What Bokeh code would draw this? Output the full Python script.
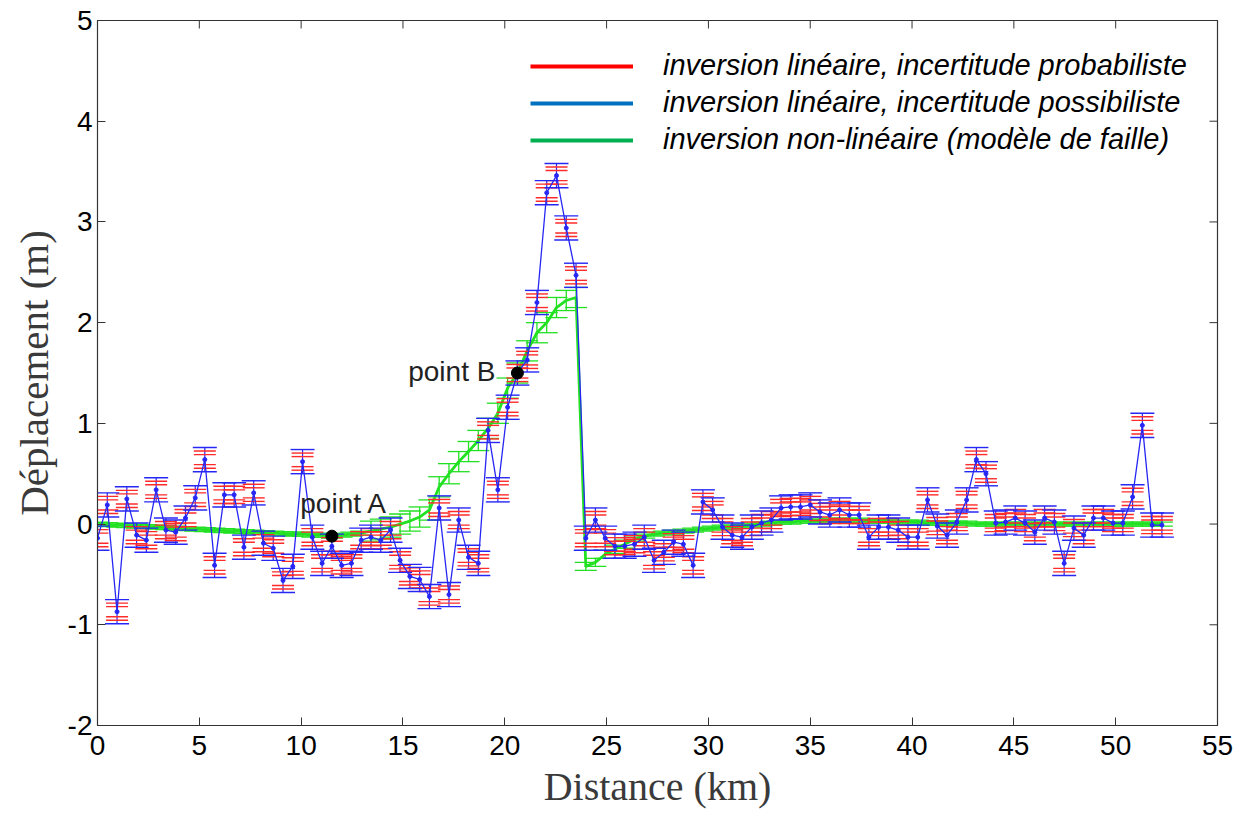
from bokeh.plotting import figure
from bokeh.models import (ColumnDataSource, FixedTicker, Legend, LegendItem,
                          Range1d, Label)
from bokeh.embed import file_html
from bokeh.resources import INLINE
import numpy as np

# ---------------- data ----------------
distance_km = [0.00, 0.48, 0.96, 1.44, 1.92, 2.40, 2.88, 3.36, 3.84, 4.32,
               4.80, 5.27, 5.75, 6.23, 6.71, 7.19, 7.67, 8.15, 8.63, 9.11,
               9.59, 10.07, 10.55, 11.03, 11.51, 11.99, 12.47, 12.95, 13.43, 13.91,
               14.39, 14.86, 15.34, 15.82, 16.30, 16.78, 17.26, 17.74, 18.22, 18.70,
               19.18, 19.66, 20.14, 20.62, 21.10, 21.58, 22.06, 22.54, 23.02, 23.50,
               23.98, 24.45, 24.93, 25.41, 25.89, 26.37, 26.85, 27.33, 27.81, 28.29,
               28.77, 29.25, 29.73, 30.21, 30.69, 31.17, 31.65, 32.13, 32.61, 33.09,
               33.57, 34.04, 34.52, 35.00, 35.48, 35.96, 36.44, 36.92, 37.40, 37.88,
               38.36, 38.84, 39.32, 39.80, 40.28, 40.76, 41.24, 41.72, 42.20, 42.68,
               43.16, 43.63, 44.11, 44.59, 45.07, 45.55, 46.03, 46.51, 46.99, 47.47,
               47.95, 48.43, 48.91, 49.39, 49.87, 50.35, 50.83, 51.31, 51.79, 52.27]

# linear inversion (displacement, m)
lineaire = [-0.14, 0.19, -0.87, 0.25, -0.11, -0.16, 0.34, -0.06, -0.08, 0.06,
            0.26, 0.64, -0.41, 0.29, 0.29, -0.23, 0.31, -0.19, -0.24, -0.56,
            -0.42, 0.62, -0.13, -0.39, -0.22, -0.41, -0.39, -0.16, -0.13, -0.16,
            -0.06, -0.36, -0.52, -0.55, -0.72, 0.16, -0.70, 0.04, -0.33, -0.39,
            0.93, 0.34, 1.16, 1.50, 1.63, 2.20, 3.29, 3.46, 2.94, 2.47,
            -0.14, 0.04, -0.14, -0.22, -0.22, -0.20, -0.13, -0.36, -0.28, -0.18,
            -0.20, -0.41, 0.22, 0.14, -0.03, -0.11, -0.13, -0.03, 0.01, 0.04,
            0.16, 0.17, 0.17, 0.19, 0.12, 0.09, 0.14, 0.09, 0.09, -0.13,
            -0.03, -0.03, -0.06, -0.13, -0.13, 0.24, -0.02, -0.11, 0.02, 0.24,
            0.64, 0.50, 0.01, 0.02, 0.06, 0.01, -0.08, 0.06, 0.02, -0.39,
            -0.04, -0.11, 0.06, 0.06, 0.01, 0.01, 0.27, 0.98, -0.01, -0.01]

# non-linear inversion (fault model)
non_lineaire = [0.00, -0.005, -0.01, -0.015, -0.02, -0.025, -0.03, -0.035, -0.04, -0.045,
                -0.05, -0.055, -0.06, -0.065, -0.07, -0.075, -0.08, -0.085, -0.09, -0.095,
                -0.10, -0.10, -0.11, -0.11, -0.12, -0.11, -0.10, -0.09, -0.07, -0.05,
                -0.03, 0.00, 0.03, 0.07, 0.14, 0.37, 0.50, 0.62, 0.72, 0.83,
                0.95, 1.10, 1.35, 1.50, 1.72, 1.90, 2.00, 2.15, 2.22, 2.25,
                -0.42, -0.38, -0.30, -0.25, -0.20, -0.15, -0.12, -0.10, -0.09, -0.08,
                -0.07, -0.06, -0.05, -0.04, -0.03, -0.03, -0.02, -0.01, 0.00, 0.01,
                0.02, 0.02, 0.03, 0.03, 0.03, 0.04, 0.04, 0.04, 0.04, 0.03,
                0.03, 0.03, 0.02, 0.02, 0.02, 0.01, 0.01, 0.01, 0.01, 0.01,
                0.00, 0.00, 0.00, 0.00, 0.00, 0.00, 0.00, 0.00, 0.00, 0.00,
                0.00, 0.00, 0.00, 0.00, 0.00, 0.00, 0.00, 0.00, 0.00, 0.00]

err_non_lineaire = [0.02] * 28 + [0.10] * 22 + [0.04] * 5 + [0.02] * 55

ERR_POSSIBILISTE = 0.12          # blue interval half-width (m)
ERR_PROBABILISTE = [0.05, 0.085]  # red interval half-widths (m)

idx_A, idx_B = 24, 43  # point A on the non-linear profile, point B

legend_labels = ["inversion linéaire, incertitude probabiliste",
                 "inversion linéaire, incertitude possibiliste",
                 "inversion non-linéaire (modèle de faille)"]

x_ticks = [0, 5, 10, 15, 20, 25, 30, 35, 40, 45, 50, 55]
y_ticks = [-2, -1, 0, 1, 2, 3, 4, 5]

assert len(distance_km) == len(lineaire) == len(non_lineaire) == len(err_non_lineaire)

# ---------------- figure ----------------
BLUE = "#2626f5"
RED = "#ff2a2a"
GREEN = "#22e022"
FRAME = "#333333"

p = figure(width=1234, height=817, output_backend="svg", toolbar_location=None,
           x_range=Range1d(x_ticks[0], x_ticks[-1]), y_range=Range1d(y_ticks[0], y_ticks[-1]),
           min_border_left=97, min_border_right=17, min_border_top=20, min_border_bottom=92)
p.background_fill_color = "white"
p.border_fill_color = "white"
p.outline_line_color = FRAME
p.outline_line_width = 1.2
p.grid.visible = False

x = np.array(distance_km)
yl = np.array(lineaire)
yn = np.array(non_lineaire)
en = np.array(err_non_lineaire)

src = ColumnDataSource(dict(
    x=x, y=yl,
    bt=yl + ERR_POSSIBILISTE, bb=yl - ERR_POSSIBILISTE,
    r1t=yl + ERR_PROBABILISTE[0], r1b=yl - ERR_PROBABILISTE[0],
    r2t=yl + ERR_PROBABILISTE[1], r2b=yl - ERR_PROBABILISTE[1],
))
gsrc = ColumnDataSource(dict(x=x, y=yn, t=yn + en, b=yn - en))

# green (non-linear) with error bars
p.segment(x0="x", y0="b", x1="x", y1="t", source=gsrc, line_color=GREEN, line_width=1.3)
for col in ("t", "b"):
    p.scatter(x="x", y=col, source=gsrc, marker="dash", size=22, line_color=GREEN, line_width=1.3)
p.line(x="x", y="y", source=gsrc, line_color=GREEN, line_width=2.8)

# blue stems + caps, red caps
p.segment(x0="x", y0="bb", x1="x", y1="bt", source=src, line_color=BLUE, line_width=1.2)
for col in ("r1t", "r1b", "r2t", "r2b"):
    p.scatter(x="x", y=col, source=src, marker="dash", size=22, line_color=RED, line_width=1.4)
for col in ("bt", "bb"):
    p.scatter(x="x", y=col, source=src, marker="dash", size=24, line_color=BLUE, line_width=1.4)
p.line(x="x", y="y", source=src, line_color=BLUE, line_width=1.3)
p.scatter(x="x", y="y", source=src, size=4, fill_color=BLUE, line_color=BLUE)

# points A and B
ab = ColumnDataSource(dict(x=[distance_km[idx_A], distance_km[idx_B]],
                           y=[non_lineaire[idx_A], non_lineaire[idx_B]]))
p.scatter(x="x", y="y", source=ab, size=12, fill_color="black", line_color="black")
p.add_layout(Label(x=distance_km[idx_A], y=non_lineaire[idx_A], text="point A",
                   x_offset=12, y_offset=17, text_align="center", text_baseline="bottom",
                   text_font="Liberation Sans", text_font_size="28px", text_color="#222222"))
p.add_layout(Label(x=distance_km[idx_B], y=non_lineaire[idx_B], text="point B",
                   x_offset=-22, y_offset=2, text_align="right", text_baseline="middle",
                   text_font="Liberation Sans", text_font_size="28px", text_color="#222222"))

# axes (ticks inside, like the original box)
for ax in (p.xaxis[0], p.yaxis[0]):
    ax.major_tick_in = 8
    ax.major_tick_out = 0
    ax.minor_tick_line_color = None
    ax.axis_line_color = FRAME
    ax.major_tick_line_color = FRAME
    ax.major_label_text_font = "Liberation Sans"
    ax.major_label_text_font_size = "28px"
    ax.major_label_text_color = "black"
    ax.axis_label_text_font = "Liberation Serif"
    ax.axis_label_text_font_style = "normal"
    ax.axis_label_text_color = "#3a3a3a"
p.xaxis[0].ticker = FixedTicker(ticks=x_ticks)
p.yaxis[0].ticker = FixedTicker(ticks=y_ticks)
p.yaxis[0].major_label_overrides = {t: str(t) for t in y_ticks}
p.xaxis[0].axis_label = "Distance (km)"
p.yaxis[0].axis_label = "Déplacement (m)"
p.xaxis[0].axis_label_text_font_size = "40px"
p.yaxis[0].axis_label_text_font_size = "41px"
p.xaxis[0].major_label_standoff = 10
p.yaxis[0].major_label_standoff = 5
p.xaxis[0].axis_label_standoff = 6
p.yaxis[0].axis_label_standoff = 8

# inward ticks on the top and right sides of the box (clipped to the frame)
p.scatter(x=[x_ticks[-1]] * len(y_ticks), y=y_ticks, marker="dash", size=16,
          line_color=FRAME, line_width=1)
p.scatter(x=x_ticks, y=[y_ticks[-1]] * len(x_ticks), marker="dash", size=16, angle=np.pi / 2,
          line_color=FRAME, line_width=1)

# legend
leg_colors = ["#ff0000", "#0070c0", "#00b050"]
items = []
for lab, c in zip(legend_labels, leg_colors):
    r = p.line(x=[-100, -99], y=[-100, -100], line_color=c, line_width=4)
    items.append(LegendItem(label=lab, renderers=[r]))
legend = Legend(items=items, location=(433, 569), orientation="vertical",
                glyph_width=103, glyph_height=32, label_height=32, spacing=4,
                label_standoff=30, padding=0, margin=0,
                label_text_font="Liberation Sans", label_text_font_style="italic",
                label_text_font_size="29px", label_text_color="black",
                border_line_color=None, background_fill_alpha=0)
p.add_layout(legend, "center")

open("out.html", "w").write(file_html(p, INLINE))
